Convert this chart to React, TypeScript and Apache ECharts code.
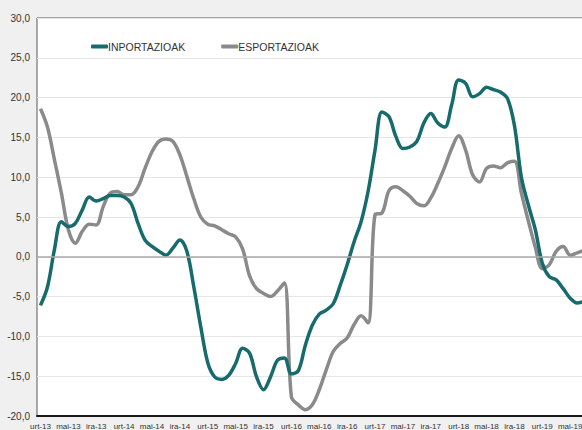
import React, { useEffect, useRef } from "react";
import * as echarts from "echarts";

// Basque month abbreviations and years for the category axis
const monthNames = ["urt", "ots", "mar", "api", "mai", "eka", "uzt", "abu", "ira", "urr", "aza", "abe"];
const years = ["13", "14", "15", "16", "17", "18", "19"];
const monthCount = 79; // urt-13 .. uzt-19

const categories: string[] = [];
years.forEach((y) => monthNames.forEach((m) => categories.push(`${m}-${y}`)));
const cats = categories.slice(0, monthCount);

// Y axis ticks
const yMin = -20;
const yMax = 30;
const yStep = 5;

// INPORTAZIOAK (imports), % year-on-year
const inportazioak = [
  -6.1, -3.8, 0.9, 4.4, 3.8, 4.2, 5.9, 7.5, 7.0, 7.3, 7.7, 7.7,
  7.5, 6.7, 4.2, 2.1, 1.3, 0.7, 0.2, 1.1, 2.1, 0.7, -3.8, -8.8,
  -13.3, -15.1, -15.4, -14.9, -13.4, -11.5, -12.1, -15.1, -16.7, -15.1, -13.0, -12.7,
  -14.7, -14.3, -11.1, -8.6, -7.2, -6.7, -5.9, -3.6, -1.0, 1.9, 4.4, 8.2,
  13.4, 18.2, 17.6, 15.1, 13.6, 13.8, 14.5, 16.8, 18.0, 16.8, 16.3, 19.1,
  22.2, 21.8, 20.1, 20.5, 21.3, 21.0, 20.7, 19.9, 16.5, 10.0, 6.5, 3.4,
  -0.8, -2.5, -2.9, -4.0, -5.2, -5.8, -5.6,
];

// ESPORTAZIOAK (exports), % year-on-year
const esportazioak = [
  18.6, 16.3, 12.2, 8.0, 3.4, 1.7, 3.2, 4.1, 4.0, 6.3, 8.0, 8.2,
  7.8, 7.8, 8.8, 11.1, 13.2, 14.5, 14.8, 14.5, 12.8, 10.1, 7.3, 5.0,
  4.1, 3.9, 3.4, 2.9, 2.5, 1.0, -2.4, -4.0, -4.6, -5.0, -4.3, -3.3,
  -17.6, -18.6, -19.2, -18.6, -16.7, -14.2, -11.9, -10.9, -10.2, -8.5, -7.4, -8.3,
  5.3, 5.5, 8.3, 8.8, 8.3, 7.6, 6.7, 6.4, 7.4, 9.2, 11.3, 13.6,
  15.2, 13.4, 10.3, 9.4, 11.1, 11.4, 11.2, 11.8, 12.0, 8.0, 4.5, 1.2,
  -1.5, -1.0, 0.7, 1.3, 0.2, 0.5, 0.8,
];

const seriesNames = ["INPORTAZIOAK", "ESPORTAZIOAK"];
const seriesColors = ["#176b6d", "#8a8a8a"];

const narrow = "'Liberation Sans Narrow', 'Arial Narrow', 'Liberation Sans', Arial, sans-serif";

export default function App() {
  const ref = useRef<HTMLDivElement>(null);

  useEffect(() => {
    if (!ref.current) return;
    const chart = echarts.init(ref.current, null, { renderer: "svg" });
    chart.setOption({
      animation: false,
      backgroundColor: "#f0f0f0",
      textStyle: { fontFamily: narrow },
      legend: {
        data: seriesNames,
        left: 86,
        top: 36,
        itemWidth: 17,
        itemHeight: 4,
        itemGap: 36,
        icon: "roundRect",
        textStyle: { fontSize: 10.5, color: "#333", fontFamily: narrow, padding: [0, 0, 0, -5] },
      },
      grid: {
        left: 37,
        top: 18,
        width: 550.6,
        height: 398,
        show: true,
        backgroundColor: "#ffffff",
        borderColor: "#595959",
        borderWidth: 1,
      },
      xAxis: {
        type: "category",
        data: cats,
        boundaryGap: true,
        axisLine: { show: true, onZero: false, lineStyle: { color: "#1a1a1a", width: 2 } },
        axisTick: { show: false },
        axisLabel: {
          interval: 3,
          fontSize: 8,
          color: "#333",
          margin: 6,
          fontFamily: narrow,
        },
        splitLine: { show: false },
      },
      yAxis: {
        type: "value",
        min: yMin,
        max: yMax,
        interval: yStep,
        axisLine: { show: false },
        axisTick: { show: false },
        axisLabel: {
          fontSize: 10,
          color: "#333",
          margin: 7,
          fontFamily: narrow,
          formatter: (v: number) => v.toFixed(1).replace(".", ","),
        },
        splitLine: { show: true, lineStyle: { color: "#e6e6e6", width: 1 } },
      },
      series: [
        {
          name: "zero",
          type: "line",
          data: [],
          z: 1,
          silent: true,
          markLine: {
            silent: true,
            symbol: "none",
            label: { show: false },
            emphasis: { disabled: true },
            lineStyle: { color: "#a8a8a8", width: 1.5, type: "solid" },
            data: [{ yAxis: 0 }],
          },
        },
        {
          name: seriesNames[0],
          type: "line",
          data: inportazioak,
          smooth: 0.35,
          showSymbol: false,
          symbol: "none",
          z: 3,
          lineStyle: { color: seriesColors[0], width: 3.5 },
          itemStyle: { color: seriesColors[0] },
        },
        {
          name: seriesNames[1],
          type: "line",
          data: esportazioak,
          smooth: 0.35,
          showSymbol: false,
          symbol: "none",
          z: 2,
          lineStyle: { color: seriesColors[1], width: 3.5 },
          itemStyle: { color: seriesColors[1] },
        },
      ],
    });
    return () => chart.dispose();
  }, []);

  return (
    <div
      style={{
        position: "fixed",
        left: 0,
        top: 0,
        width: 582,
        height: 430,
        overflow: "hidden",
        background: "#f0f0f0",
      }}
    >
      <div ref={ref} style={{ width: 600, height: 430 }} />
    </div>
  );
}
